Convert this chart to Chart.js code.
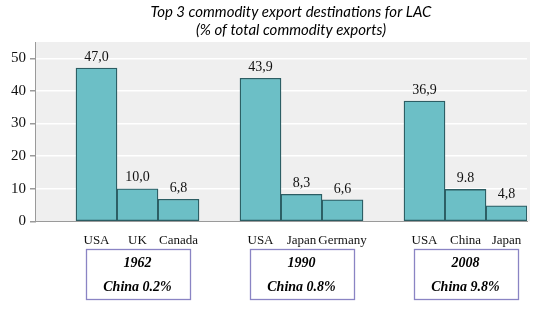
<!DOCTYPE html>
<html>
<head>
<meta charset="utf-8">
<script src="https://cdn.jsdelivr.net/npm/chart.js@4"></script>
<style>
  html, body { margin: 0; padding: 0; background: #ffffff; }
  #wrap { width: 541px; height: 321px; position: relative; }
</style>
</head>
<body>
<div id="wrap"><canvas id="c" width="541" height="321"></canvas></div>
<script>
const titleLines = ['Top 3 commodity export destinations for LAC', '(% of total commodity exports)'];
const categories = ['', 'USA', 'UK', 'Canada', '', 'USA', 'Japan', 'Germany', '', 'USA', 'China', 'Japan'];
const shares = [null, 47.0, 10.0, 6.8, null, 43.9, 8.3, 6.6, null, 36.9, 9.8, 4.8];
const valueLabels = ['', '47,0', '10,0', '6,8', '', '43,9', '8,3', '6,6', '', '36,9', '9.8', '4,8'];
const yTicks = [0, 10, 20, 30, 40, 50];
const groupYears = ['1962', '1990', '2008'];
const groupChina = ['China 0.2%', 'China 0.8%', 'China 9.8%'];
const groupCenters = [2, 6, 10]; // category index at centre of each group

const SERIF = "'Liberation Serif', 'Times New Roman', serif";

const decor = {
  id: 'decor',
  beforeDraw(chart) {
    const { ctx, chartArea: a } = chart;
    ctx.save();
    ctx.fillStyle = '#efefef';
    ctx.fillRect(a.left, a.top, a.right - a.left + 3, a.bottom - a.top);
    ctx.restore();
  },
  afterDraw(chart) {
    const { ctx } = chart;
    const x = chart.scales.x;
    const meta = chart.getDatasetMeta(0);
    ctx.save();
    ctx.fillStyle = '#000';
    ctx.textAlign = 'center';
    ctx.textBaseline = 'middle';
    ctx.font = "italic 15px Lato, 'Open Sans', sans-serif";
    ctx.fillText(titleLines[0], 291, 12);
    ctx.fillText(titleLines[1], 291, 30);
    ctx.font = '14px ' + SERIF;
    ctx.fillStyle = '#111';
    ctx.textBaseline = 'bottom';
    meta.data.forEach((bar, i) => {
      if (shares[i] == null) return;
      ctx.fillText(valueLabels[i], bar.x, bar.y - 4);
    });
    groupCenters.forEach((ci, g) => {
      const cx = x.getPixelForValue(ci);
      const bw = 104, by = 249, bh = 50;
      ctx.strokeStyle = '#8a84c4';
      ctx.lineWidth = 1.3;
      ctx.strokeRect(Math.round(cx - bw / 2) + 0.5, by + 0.5, bw, bh);
      ctx.fillStyle = '#000';
      ctx.textBaseline = 'middle';
      ctx.font = 'italic bold 14px ' + SERIF;
      ctx.fillText(groupYears[g], cx, 263);
      ctx.fillText(groupChina[g], cx, 287);
    });
    ctx.restore();
  }
};

function build() {
  new Chart(document.getElementById('c'), {
    type: 'bar',
    data: {
      labels: categories,
      datasets: [{
        data: shares,
        backgroundColor: '#6cbfc6',
        borderColor: '#2c5d63',
        borderWidth: 1.3,
        borderSkipped: false,
        categoryPercentage: 1.0,
        barPercentage: 1.0
      }]
    },
    options: {
      responsive: false,
      animation: false,
      events: [],
      layout: { padding: { top: 42, left: 7, right: 14, bottom: 62 } },
      plugins: { legend: { display: false }, title: { display: false }, tooltip: { enabled: false } },
      scales: {
        x: {
          offset: true,
          grid: { display: false, drawTicks: false },
          border: { display: true, color: '#9a9a9a', width: 1 },
          ticks: {
            color: '#111',
            font: { family: SERIF, size: 13 },
            padding: 11,
            maxRotation: 0,
            autoSkip: false
          }
        },
        y: {
          min: 0,
          max: 55,
          afterBuildTicks(scale) { scale.ticks = yTicks.map(v => ({ value: v })); },
          grid: { color: '#ffffff', lineWidth: 1.5, drawTicks: true, tickLength: 5, tickColor: '#9a9a9a' },
          border: { display: true, color: '#9a9a9a', width: 1 },
          ticks: {
            color: '#111',
            font: { family: SERIF, size: 15 },
            padding: 4
          }
        }
      }
    },
    plugins: [decor]
  });
}

Promise.all([
  document.fonts.load("14px 'Liberation Serif'"),
  document.fonts.load("italic bold 14px 'Liberation Serif'"),
  document.fonts.load("italic 15px Lato")
]).catch(() => {}).then(build);
</script>
</body>
</html>
